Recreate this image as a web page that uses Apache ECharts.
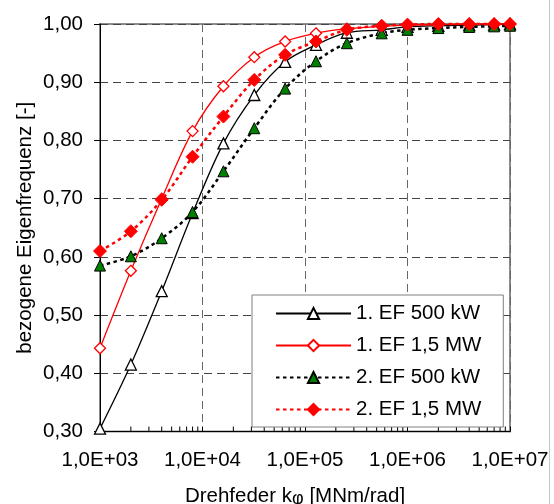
<!DOCTYPE html>
<html>
<head>
<meta charset="utf-8">
<script src="https://cdn.jsdelivr.net/npm/echarts@6/dist/echarts.min.js"></script>
<style>
html, body {margin: 0; padding: 0; background: #fff;}
#chart {width: 554px; height: 504px;}
</style>
</head>
<body>
<div id="chart"></div>
<script>
// Drehfeder k [MNm/rad]
var drehfeder = [1e3, 2e3, 4e3, 8e3, 1.6e4, 3.2e4, 6.4e4, 1.28e5, 2.56e5, 5.6e5, 1e6, 2e6, 4e6, 7e6, 1e7];
// bezogene Eigenfrequenz
var ef1_500kW = [0.305, 0.415, 0.541, 0.675, 0.795, 0.878, 0.935, 0.964, 0.985, 0.990, 0.995, 0.997, 0.998, 0.999, 1.000];
var ef1_15MW  = [0.443, 0.576, 0.700, 0.816, 0.893, 0.943, 0.970, 0.984, 0.992, 0.996, 0.998, 0.999, 1.000, 1.000, 1.000];
var ef2_500kW = [0.585, 0.601, 0.632, 0.677, 0.747, 0.821, 0.889, 0.936, 0.967, 0.984, 0.990, 0.993, 0.995, 0.996, 0.997];
var ef2_15MW  = [0.610, 0.644, 0.698, 0.772, 0.841, 0.904, 0.947, 0.970, 0.990, 0.997, 0.999, 1.000, 1.000, 1.000, 1.000];
var seriesNames = ['1. EF 500 kW', '1. EF 1,5 MW', '2. EF 500 kW', '2. EF 1,5 MW'];
// log minor ticks 2..9 in every decade
var minorSteps = [2, 3, 4, 5, 6, 7, 8, 9];
var decades = [1e3, 1e4, 1e5, 1e6];

var FONT = 'Liberation Sans';
var chart = echarts.init(document.getElementById('chart'), null, {renderer: 'canvas'});

function pairs(ys) {
    return drehfeder.map(function (x, i) { return [x, ys[i]]; });
}

var minorTicks = [];
decades.forEach(function (d) {
    minorSteps.forEach(function (m) { minorTicks.push([d * m, 0.3]); });
});

function expLabel(v) {
    var e = Math.round(Math.log(v) / Math.LN10);
    return '1,0E+' + (e < 10 ? '0' + e : e);
}

var option = {
    backgroundColor: '#fff',
    animation: false,
    textStyle: {fontFamily: FONT},
    grid: {
        left: 100, top: 24, right: 44, bottom: 72.5,
        containLabel: false, outerBoundsMode: 'none',
        show: true, borderColor: '#8c8c8c', borderWidth: 2
    },
    legend: {
        orient: 'vertical',
        left: 252, top: 295,
        data: seriesNames,
        backgroundColor: '#fff',
        borderColor: '#808080', borderWidth: 1,
        padding: [8, 22, 7, 23],
        itemGap: 11,
        itemWidth: 75, itemHeight: 14,
        textStyle: {fontFamily: FONT, fontSize: 20.5, color: '#000', lineHeight: 20}
    },
    xAxis: {
        type: 'log', logBase: 10, min: 1e3, max: 1e7,
        name: '{a|Drehfeder k}{s|φ}{a| [MNm/rad]}',
        nameLocation: 'middle', nameGap: 53,
        nameMoveOverlap: false,
        nameTextStyle: {
            padding: [0, 20, 0, 0],
            rich: {
                a: {fontFamily: FONT, fontSize: 20.5, color: '#000'},
                s: {fontFamily: FONT, fontSize: 18, color: '#000', padding: [6, 0, 0, 0]}
            }
        },
        axisLine: {lineStyle: {color: '#000', width: 1}},
        axisTick: {inside: true, length: 5, lineStyle: {color: '#000'}},
        axisLabel: {
            margin: 18, fontFamily: FONT, fontSize: 20.5, color: '#000',
            showMinLabel: true, showMaxLabel: true,
            formatter: expLabel
        },
        splitLine: {show: true, lineStyle: {color: '#666', type: [8, 5], width: 1}}
    },
    yAxis: {
        type: 'value', min: 0.3, max: 1.0, interval: 0.1,
        name: 'bezogene Eigenfrequenz [-]',
        nameLocation: 'middle', nameGap: 64,
        nameMoveOverlap: false,
        nameTextStyle: {fontFamily: FONT, fontSize: 20.5, color: '#000'},
        axisLine: {show: true, lineStyle: {color: '#000', width: 1}},
        axisTick: {show: true, length: 6, lineStyle: {color: '#000'}},
        axisLabel: {
            margin: 17, fontFamily: FONT, fontSize: 20.5, color: '#000',
            formatter: function (v) { return v.toFixed(2).replace('.', ','); }
        },
        splitLine: {show: true, lineStyle: {color: '#444', type: [8, 5], width: 1}}
    },
    series: [
        {
            type: 'custom', silent: true, z: 3, clip: false,
            data: minorTicks,
            encode: {x: 0, y: 1},
            renderItem: function (params, api) {
                var p = api.coord([api.value(0), api.value(1)]);
                return {
                    type: 'line',
                    shape: {x1: p[0], y1: p[1], x2: p[0], y2: p[1] - 5},
                    style: {stroke: '#000', lineWidth: 1}
                };
            }
        },
        {
            name: seriesNames[0], type: 'line', data: pairs(ef1_500kW),
            smooth: 0.35, clip: false,
            symbol: 'triangle', symbolSize: 11,
            lineStyle: {color: '#000', width: 1.3, type: 'solid'},
            itemStyle: {color: '#fff', borderColor: '#000', borderWidth: 1.3}
        },
        {
            name: seriesNames[1], type: 'line', data: pairs(ef1_15MW),
            smooth: 0.35, clip: false,
            symbol: 'diamond', symbolSize: 11,
            lineStyle: {color: '#ff0000', width: 1.3, type: 'solid'},
            itemStyle: {color: '#fff', borderColor: '#ff0000', borderWidth: 1.3}
        },
        {
            name: seriesNames[2], type: 'line', data: pairs(ef2_500kW),
            smooth: 0.35, clip: false,
            symbol: 'triangle', symbolSize: 11,
            lineStyle: {color: '#000', width: 2.5, type: [3.5, 3.5]},
            itemStyle: {color: '#008000', borderColor: '#000', borderWidth: 1}
        },
        {
            name: seriesNames[3], type: 'line', data: pairs(ef2_15MW),
            smooth: 0.35, clip: false,
            symbol: 'diamond', symbolSize: 13,
            lineStyle: {color: '#ff0000', width: 2.5, type: [3.5, 3.5]},
            itemStyle: {color: '#ff0000', borderColor: '#ff0000', borderWidth: 1}
        }
    ],
    graphic: [{
        type: 'line', silent: true,
        shape: {x1: 549.5, y1: 0, x2: 549.5, y2: 504},
        style: {stroke: '#c8c8c8', lineWidth: 1}
    }]
};
chart.setOption(option);
</script>
</body>
</html>
